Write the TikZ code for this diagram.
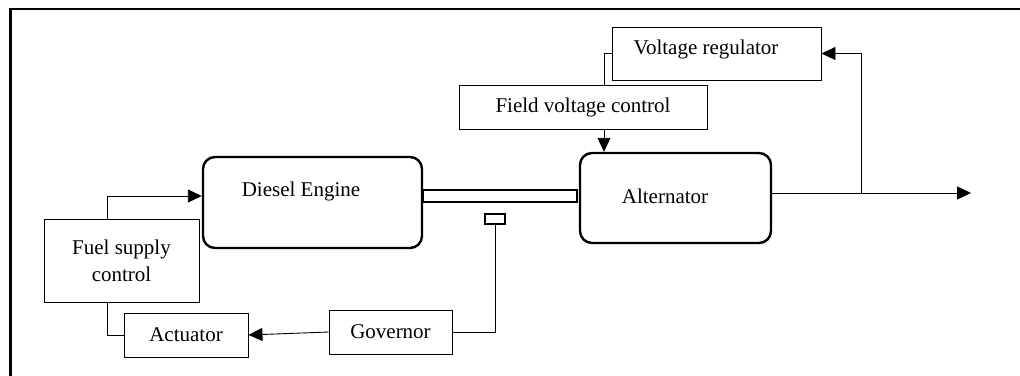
\documentclass[tikz,border=0pt]{standalone}
\usepackage{fontspec}
\setmainfont{Liberation Serif}
\usetikzlibrary{positioning,arrows.meta,calc}

\begin{document}
\begin{tikzpicture}[
  x=1pt, y=-1pt,
  font=\fontsize{21}{27}\selectfont,
  >={Triangle[length=14pt, width=13pt]},
  box/.style={draw, line width=0.9pt, align=center, inner sep=0pt},
  rbox/.style={draw, line width=2.4pt, rounded corners=12pt, inner sep=0pt},
  line/.style={line width=0.9pt},
  arr/.style={line width=0.9pt, ->},
]
  \useasboundingbox (0,0) rectangle (1020,375);
  % Outer frame (cut at right and bottom)
  \draw[line width=2.5pt] (10.5,380) |- (1025,9);
  % Engine side
  \node[rbox, minimum width=219pt, minimum height=91pt] (eng) at (312.5,202.5) {};
  \node (engtxt) at (301,191) {Diesel Engine};
  \node[box, minimum width=155pt, minimum height=83pt] (fuel) at (121.5,260.5)
    {Fuel supply\\control};
  \node[box, minimum width=124pt, minimum height=44pt] (act) at (186,335) {Actuator};
  \node[box, minimum width=123pt, minimum height=44pt] (gov) at (390.5,332) {Governor};
  % Shaft and speed sensor
  \node[draw, line width=2pt, minimum width=154pt, minimum height=12pt, inner sep=0pt]
    (shaft) at (500,196) {};
  \node[draw, line width=2pt, minimum width=20pt, minimum height=10pt, inner sep=0pt]
    (sensor) at (495,219) {};
  % Alternator side
  \node[rbox, minimum width=191pt, minimum height=90pt] (alt) at (675.5,198) {};
  \node (alttxt) at (665,196) {Alternator};
  \node[box, minimum width=248pt, minimum height=44pt] (fvc) at (583,107)
    {Field voltage control};
  \node[box, minimum width=209pt, minimum height=53pt] (vreg) at (716.5,53.5) {};
  \node (vregtxt) at (706,49) {Voltage regulator};
  \coordinate (branch) at (861,193);
  \coordinate (out) at (971,193);
  % Connectors
  \draw[arr] ([xshift=-14.5pt]fuel.north) |- ([yshift=6.5pt]eng.west);
  \draw[line] ([xshift=-14.5pt]fuel.south) |- (act.west);
  \draw[arr] (gov.west) -- (act.east);
  \draw[line] (gov.east) -| (sensor.south);
  \draw[line] (vreg.west) -| ([xshift=21pt]fvc.north);
  \draw[arr] ([xshift=21pt]fvc.south) -- ([xshift=21pt]fvc.south |- alt.north);
  \draw[arr] ([yshift=5pt]alt.east) -- (out);
  \draw[arr] (branch) |- (vreg.east);
\end{tikzpicture}
\end{document}
